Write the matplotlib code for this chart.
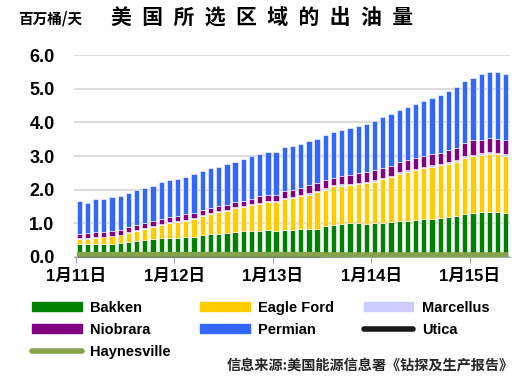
import matplotlib
matplotlib.use('Agg')
import numpy as np
import matplotlib.pyplot as plt
from matplotlib.patches import Patch
from matplotlib.lines import Line2D

# 数据: 2011年1月 - 2015年5月, 百万桶/天
bakken = [0.37, 0.37, 0.38, 0.37, 0.39, 0.42, 0.45, 0.48, 0.49, 0.52, 0.55, 0.56,
          0.57, 0.59, 0.59, 0.64, 0.67, 0.69, 0.70, 0.73, 0.76, 0.78, 0.77, 0.79,
          0.78, 0.80, 0.81, 0.82, 0.84, 0.84, 0.91, 0.95, 0.98, 0.99, 1.00, 0.98,
          1.00, 1.01, 1.03, 1.05, 1.06, 1.09, 1.12, 1.13, 1.14, 1.17, 1.20, 1.28,
          1.31, 1.32, 1.33, 1.33, 1.31]
eagle_ford = [0.16, 0.17, 0.19, 0.21, 0.22, 0.22, 0.26, 0.29, 0.33, 0.36, 0.39, 0.43,
              0.45, 0.48, 0.53, 0.56, 0.61, 0.63, 0.67, 0.72, 0.72, 0.76, 0.80, 0.83,
              0.84, 0.91, 0.94, 0.99, 1.01, 1.08, 1.09, 1.16, 1.14, 1.14, 1.17, 1.22,
              1.24, 1.31, 1.35, 1.42, 1.47, 1.49, 1.52, 1.55, 1.58, 1.60, 1.62, 1.67,
              1.68, 1.72, 1.74, 1.72, 1.70]
marcellus = [0.02, 0.02, 0.02, 0.02, 0.02, 0.02, 0.02, 0.03, 0.03, 0.03, 0.03, 0.03,
             0.03, 0.03, 0.03, 0.03, 0.03, 0.03, 0.03, 0.03, 0.03, 0.03, 0.04, 0.04,
             0.04, 0.04, 0.04, 0.04, 0.04, 0.04, 0.04, 0.04, 0.04, 0.04, 0.04, 0.04,
             0.04, 0.04, 0.04, 0.04, 0.04, 0.04, 0.04, 0.04, 0.04, 0.04, 0.05, 0.05,
             0.05, 0.05, 0.05, 0.05, 0.05]
niobrara = [0.13, 0.14, 0.14, 0.14, 0.14, 0.15, 0.15, 0.14, 0.15, 0.14, 0.15, 0.15,
            0.16, 0.17, 0.16, 0.17, 0.15, 0.16, 0.14, 0.15, 0.16, 0.16, 0.20, 0.19,
            0.19, 0.20, 0.21, 0.19, 0.24, 0.23, 0.24, 0.21, 0.24, 0.26, 0.28, 0.27,
            0.29, 0.29, 0.28, 0.30, 0.31, 0.32, 0.31, 0.34, 0.33, 0.36, 0.37, 0.39,
            0.43, 0.40, 0.41, 0.42, 0.41]
permian = [0.97, 0.89, 0.99, 0.98, 1.01, 1.01, 1.03, 1.04, 1.05, 1.07, 1.11, 1.11,
           1.12, 1.12, 1.15, 1.15, 1.17, 1.16, 1.23, 1.19, 1.23, 1.27, 1.24, 1.27,
           1.28, 1.31, 1.31, 1.32, 1.33, 1.33, 1.35, 1.36, 1.38, 1.40, 1.41, 1.45,
           1.48, 1.51, 1.56, 1.56, 1.57, 1.62, 1.64, 1.66, 1.73, 1.76, 1.81, 1.84,
           1.87, 1.96, 1.98, 1.99, 1.97]
utica = [0.0] * 30 + [0.01, 0.01, 0.01, 0.01, 0.02, 0.02, 0.02, 0.02, 0.03, 0.03,
                      0.03, 0.03, 0.04, 0.04, 0.04, 0.04, 0.05, 0.05, 0.05, 0.06,
                      0.06, 0.06, 0.06]
haynesville = [0.07, 0.07, 0.07, 0.07, 0.07, 0.07, 0.07, 0.07, 0.07, 0.07, 0.07, 0.07,
               0.07, 0.07, 0.07, 0.07, 0.07, 0.07, 0.07, 0.07, 0.07, 0.07, 0.07, 0.07,
               0.07, 0.07, 0.07, 0.07, 0.07, 0.07, 0.06, 0.06, 0.06, 0.06, 0.06, 0.06,
               0.06, 0.06, 0.06, 0.06, 0.06, 0.06, 0.06, 0.06, 0.06, 0.06, 0.06, 0.06,
               0.06, 0.06, 0.06, 0.06, 0.06]
tick_labels = ['1月11日', '1月12日', '1月13日', '1月14日', '1月15日']

cjk = ['Liberation Sans', 'Noto Sans CJK SC']

# 颜色
c_bakken = '#008000'
c_eagle = '#ffcc00'
c_marc = '#ccccff'
c_niob = '#800080'
c_perm = '#3366ff'
c_utica = '#1a1a1a'
c_hay = '#86a34c'

n = len(bakken)
x = np.arange(n) + 0.4

fig = plt.figure(figsize=(5.32, 3.84), dpi=100)
ax = fig.add_axes([0.139, 0.3315, 0.8195, 0.526])

series = [(bakken, c_bakken), (eagle_ford, c_eagle), (marcellus, c_marc),
          (niobrara, c_niob), (permian, c_perm)]
bottom = np.zeros(n)
for vals, col in series:
    vals = np.array(vals)
    ax.bar(x, vals, width=0.64, bottom=bottom, color=col,
           edgecolor='white', linewidth=0.4, zorder=2)
    bottom += vals

ax.plot(x, utica, color='#505050', linewidth=1.2, zorder=3, clip_on=False)
ax.plot(x, haynesville, color=c_hay, linewidth=3.6,
        solid_capstyle='projecting', zorder=4)

ax.set_ylim(0, 6.02)
ax.set_xlim(-0.24, 52.9)
ax.set_yticks(np.arange(0, 6.1, 1.0))
ax.set_yticklabels(['%.1f' % v for v in np.arange(0, 6.1, 1.0)],
                   fontfamily='Liberation Sans', fontweight='bold', fontsize=13)
ax.set_xticks([0, 12, 24, 36, 48])
ax.set_xticklabels(tick_labels, fontfamily=cjk, fontweight='bold', fontsize=12)
ax.tick_params(axis='y', length=0, pad=14)
ax.tick_params(axis='x', length=4, color='#a6a6a6', pad=5)
ax.yaxis.grid(True, color='#d9d9d9', linewidth=1.3, zorder=0)
ax.set_axisbelow(True)

# 去掉多余的边框
for s in ('top', 'right', 'left'):
    ax.spines[s].set_visible(False)
ax.spines['bottom'].set_color('#a6a6a6')

fig.text(0.034, 0.953, '百万桶/天', fontfamily='Noto Sans CJK SC',
         fontweight='bold', fontsize=10.5, va='center')
fig.text(0.209, 0.953, '\u2002'.join('美国所选区域的出油量'),
         fontfamily=['Noto Sans CJK SC', 'DejaVu Sans'],
         fontweight='bold', fontsize=15, va='center')

handles = [Patch(color=c_bakken, label='Bakken'),
           Patch(color=c_niob, label='Niobrara'),
           Line2D([], [], color=c_hay, linewidth=4, solid_capstyle='round', label='Haynesville'),
           Patch(color=c_eagle, label='Eagle Ford'),
           Patch(color=c_perm, label='Permian'),
           Patch(color=c_marc, label='Marcellus'),
           Line2D([], [], color=c_utica, linewidth=4, solid_capstyle='round', label='Utica')]
fig.legend(handles=handles, ncol=3, loc='upper left', bbox_to_anchor=(0.06, 0.217),
           frameon=False, prop={'family': 'Liberation Sans', 'weight': 'bold', 'size': 10.5},
           handlelength=3.4, handleheight=0.6, handletextpad=0.6, columnspacing=2.0,
           labelspacing=0.55, borderaxespad=0, borderpad=0)

fig.text(0.966, 0.048, '信息来源:美国能源信息署《钻探及生产报告》',
         fontfamily='Noto Sans CJK SC', fontweight='bold', fontsize=10.2,
         color='#262626', ha='right', va='center')

fig.savefig('out.png', dpi=100)
